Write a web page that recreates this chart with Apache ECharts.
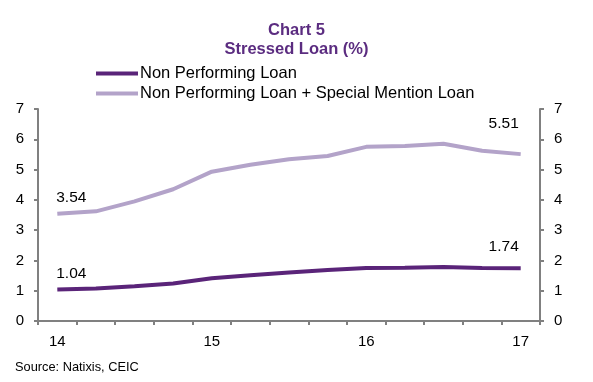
<!DOCTYPE html>
<html>
<head>
<meta charset="utf-8">
<script src="https://cdn.jsdelivr.net/npm/echarts@6/dist/echarts.min.js"></script>
<style>html,body{margin:0;padding:0;background:#fff}#c{width:593px;height:382px}</style>
</head>
<body>
<div id="c"></div>
<script>
var categories = ['14','','','','15','','','','16','','','','17'];
var nplValues = [1.04, 1.07, 1.15, 1.24, 1.41, 1.51, 1.60, 1.68, 1.75, 1.76, 1.78, 1.75, 1.74];
var nplSmlValues = [3.54, 3.62, 3.95, 4.35, 4.93, 5.16, 5.34, 5.45, 5.75, 5.78, 5.85, 5.62, 5.51];
var yTicks = [0, 7, 1];
var seriesNames = ['Non Performing Loan', 'Non Performing Loan + Special Mention Loan'];

var font = 'Liberation Sans, Arial, sans-serif';
function withLabels(vals, firstOff, lastOff) {
  return vals.map(function (v, i) {
    if (i === 0 || i === vals.length - 1) {
      return { value: v, label: { show: true, position: 'top', distance: 5, offset: i === 0 ? firstOff : lastOff,
        formatter: function (p) { return Number(p.value).toFixed(2); },
        fontFamily: font, fontSize: 15.5, color: '#000' } };
    }
    return v;
  });
}
var axisLine = { show: true, lineStyle: { color: '#808080', width: 2 } };
var tickStyle = { show: true, length: 4, lineStyle: { color: '#808080', width: 2 } };
var chart = echarts.init(document.getElementById('c'), null, { renderer: 'canvas' });
chart.setOption({
  animation: false,
  title: {
    text: 'Chart 5\nStressed Loan (%)',
    left: 'center', top: 16,
    textStyle: { fontFamily: font, fontSize: 16.5, fontWeight: 'bold', color: '#5B2C80', lineHeight: 19 }
  },
  legend: {
    orient: 'vertical', left: 96, top: 65, itemGap: 3, padding: 0,
    itemWidth: 42, itemHeight: 4, icon: 'rect',
    textStyle: { fontFamily: font, fontSize: 16.5, color: '#000', padding: [0, 0, 0, -3] },
    data: seriesNames
  },
  grid: { left: 38, right: 53, top: 109, bottom: 61 },
  xAxis: {
    type: 'category', data: categories, boundaryGap: true,
    axisLine: axisLine,
    axisTick: { show: true, interval: 0, length: 4, lineStyle: { color: '#808080', width: 2 } },
    axisLabel: { interval: 0, fontFamily: font, fontSize: 15, color: '#000', margin: 13 }
  },
  yAxis: [
    { type: 'value', min: yTicks[0], max: yTicks[1], interval: yTicks[2], position: 'left',
      axisLine: axisLine, axisTick: tickStyle, splitLine: { show: false },
      axisLabel: { fontFamily: font, fontSize: 15, color: '#000', margin: 14 } },
    { type: 'value', min: yTicks[0], max: yTicks[1], interval: yTicks[2], position: 'right',
      axisLine: axisLine, axisTick: tickStyle, splitLine: { show: false },
      axisLabel: { fontFamily: font, fontSize: 15, color: '#000', margin: 14 } }
  ],
  series: [
    { name: seriesNames[0], type: 'line', data: withLabels(nplValues, [14, -3], [-17, -9]),
      symbol: 'circle', symbolSize: 0, showSymbol: true,
      lineStyle: { color: '#5A2479', width: 4 }, itemStyle: { color: '#5A2479' } },
    { name: seriesNames[1], type: 'line', data: withLabels(nplSmlValues, [14, -3], [-17, -17]),
      symbol: 'circle', symbolSize: 0, showSymbol: true,
      lineStyle: { color: '#B3A3C9', width: 4 }, itemStyle: { color: '#B3A3C9' } }
  ],
  graphic: [
    { type: 'text', left: 15, top: 361, style: { text: 'Source: Natixis, CEIC', fontFamily: font, fontSize: 12.8, fill: '#000' } }
  ]
});
</script>
</body>
</html>
